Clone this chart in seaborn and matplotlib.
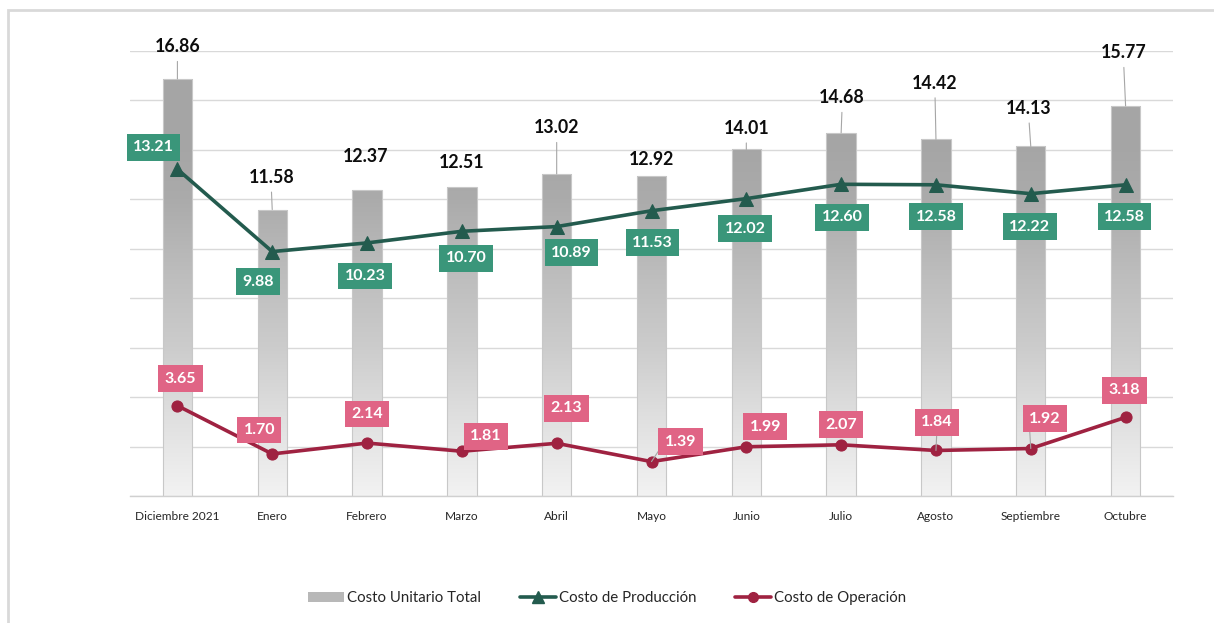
import numpy as np
import pandas as pd
import matplotlib
matplotlib.use("Agg")
import matplotlib.pyplot as plt
import seaborn as sns
from matplotlib.patches import Rectangle, Patch
from matplotlib.lines import Line2D
from matplotlib.colors import LinearSegmentedColormap

# ---------------- data ----------------
categories = ["Diciembre 2021", "Enero", "Febrero", "Marzo", "Abril", "Mayo",
              "Junio", "Julio", "Agosto", "Septiembre", "Octubre"]
costo_total = [16.86, 11.58, 12.37, 12.51, 13.02, 12.92, 14.01, 14.68, 14.42, 14.13, 15.77]
costo_produccion = [13.21, 9.88, 10.23, 10.70, 10.89, 11.53, 12.02, 12.60, 12.58, 12.22, 12.58]
costo_operacion = [3.65, 1.70, 2.14, 1.81, 2.13, 1.39, 1.99, 2.07, 1.84, 1.92, 3.18]

# ---------------- layout (label offsets in pixels) ----------------
tot_off = [(0, 32), (-1, 32), (-1, 33), (0, 24), (0, 46), (0, 17),
           (0, 21), (1, 35), (-1, 56), (-2, 38), (-2, 53)]
tot_leader = [True, True, False, False, True, False, True, True, True, True, True]
prod_off = [(-24, 22), (-14, -30), (-2, -33), (4, -27), (15, -26), (1, -32),
            (-1, -30), (1, -33), (0, -32), (-1, -33), (-1, -32)]
oper_off = [(3, 27), (-13, 24), (0, 29), (24, 15), (10, 35), (29, 20),
            (19, 20), (0, 20), (1, 28), (14, 30), (-1, 27)]
oper_leader = [False, False, False, False, False, True, False, False, True, True, False]

GREEN_LINE = "#235B4E"
GREEN_BOX = "#3A967A"
RED_LINE = "#9F2241"
PINK_BOX = "#E06485"
GRID = "#D9D9D9"

sns.set_theme(style="white")
plt.rcParams["font.family"] = ["Lato", "DejaVu Sans"]

fig = plt.figure(figsize=(12.14, 6.23), dpi=100)
W, H = 1214, 623
ax = fig.add_axes([130 / W, 1 - 496 / H, (1173 - 130) / W, (496 - 50.7) / H])

# outer frame (left + top visible)
fig.add_artist(Rectangle((8 / W, -0.1), 1.2, 1 - 10 / H + 0.1, transform=fig.transFigure,
                         fill=False, edgecolor="#D9D9D9", linewidth=2))

df = pd.DataFrame({"mes": categories, "total": costo_total,
                   "prod": costo_produccion, "oper": costo_operacion})

sns.barplot(data=df, x="mes", y="total", ax=ax, color="#A6A6A6", width=0.31,
            saturation=1, edgecolor="#C8C8C8", linewidth=0.8, zorder=2)

# gradient fill clipped to bars
stops = [(0.0, (0.95, 0.95, 0.95)), (3 / 18, (0.88, 0.88, 0.88)),
         (6 / 18, (0.80, 0.80, 0.80)), (9 / 18, (0.74, 0.74, 0.74)),
         (12 / 18, (0.67, 0.67, 0.67)), (14 / 18, (0.65, 0.65, 0.65)),
         (1.0, (0.65, 0.65, 0.65))]
cmap = LinearSegmentedColormap.from_list("g", stops)
grad = np.linspace(0, 1, 256).reshape(-1, 1)
for p in list(ax.patches):
    p.set_facecolor("none")
    im = ax.imshow(grad, cmap=cmap, extent=[-0.5, 10.5, 0, 18], origin="lower",
                   aspect="auto", vmin=0, vmax=1, zorder=1.9, interpolation="bilinear")
    im.set_clip_path(p)

x = np.arange(len(categories))
sns.lineplot(x=x, y=costo_produccion, ax=ax, color=GREEN_LINE, linewidth=2.6,
             marker="^", markersize=10, markeredgecolor=GREEN_LINE, sort=False, zorder=4)
sns.lineplot(x=x, y=costo_operacion, ax=ax, color=RED_LINE, linewidth=2.6,
             marker="o", markersize=8, markeredgecolor=RED_LINE, sort=False, zorder=4)

ax.set_xlim(-0.5, 10.5)
ax.set_ylim(0, 18)
ax.set_yticks(np.arange(0, 19, 2))
ax.set_yticklabels([])
ax.tick_params(axis="y", length=0)
ax.grid(axis="y", color=GRID, linewidth=1)
ax.set_axisbelow(True)
for s in ["top", "right", "left"]:
    ax.spines[s].set_visible(False)
ax.spines["bottom"].set_color("#D0D0D0")
ax.spines["bottom"].set_linewidth(1)
ax.set_xlabel("")
ax.set_ylabel("")
ax.set_xticks(x)
ax.set_xticklabels(categories, fontsize=8.6, color="#262626")
ax.set_xticks(np.arange(-0.5, 11, 1), minor=True)
ax.tick_params(axis="x", which="major", length=0, pad=11)
ax.tick_params(axis="x", which="minor", length=6, color="#D0D0D0", width=1)

# total labels
for i, v in enumerate(costo_total):
    dx, dy = tot_off[i]
    ap = None
    if tot_leader[i]:
        ap = dict(arrowstyle="-", color="#A6A6A6", lw=0.8, shrinkA=2, shrinkB=0,
                  relpos=(0.5, 0))
    ax.annotate(f"{v:.2f}", xy=(i, v), xytext=(dx, dy), textcoords="offset pixels",
                ha="center", va="center", fontsize=12.8, fontweight="bold",
                color="#0D0D0D", arrowprops=ap, annotation_clip=False, zorder=6)

# production labels
for i, v in enumerate(costo_produccion):
    dx, dy = prod_off[i]
    ax.annotate(f"{v:.2f}", xy=(i, v), xytext=(dx, dy), textcoords="offset pixels",
                ha="center", va="center", fontsize=11.5, fontweight="bold", color="white",
                bbox=dict(boxstyle="square,pad=0.4", facecolor=GREEN_BOX, edgecolor="none"),
                annotation_clip=False, zorder=7)

# operation labels
for i, v in enumerate(costo_operacion):
    dx, dy = oper_off[i]
    ap = None
    if oper_leader[i]:
        ap = dict(arrowstyle="-", color="#A6A6A6", lw=0.8, shrinkA=0, shrinkB=0,
                  relpos=(0.0, 0.5) if dx > 8 else (0.5, 0))
    ax.annotate(f"{v:.2f}", xy=(i, v), xytext=(dx, dy), textcoords="offset pixels",
                ha="center", va="center", fontsize=11.5, fontweight="bold", color="white",
                bbox=dict(boxstyle="square,pad=0.4", facecolor=PINK_BOX, edgecolor="none"),
                arrowprops=ap, annotation_clip=False, zorder=7)

handles = [
    Patch(facecolor="#B8B8B8", edgecolor="none"),
    Line2D([], [], color=GREEN_LINE, linewidth=2.6, marker="^", markersize=9),
    Line2D([], [], color=RED_LINE, linewidth=2.6, marker="o", markersize=7),
]
labels = ["Costo Unitario Total", "Costo de Producción", "Costo de Operación"]
fig.legend(handles, labels, loc="center", bbox_to_anchor=(0.5, 1 - 598 / H), ncol=3,
           frameon=False, fontsize=10.8, handlelength=2.4, handletextpad=0.2,
           columnspacing=2.6, labelcolor="#262626")

fig.savefig("out.png", dpi=100)
